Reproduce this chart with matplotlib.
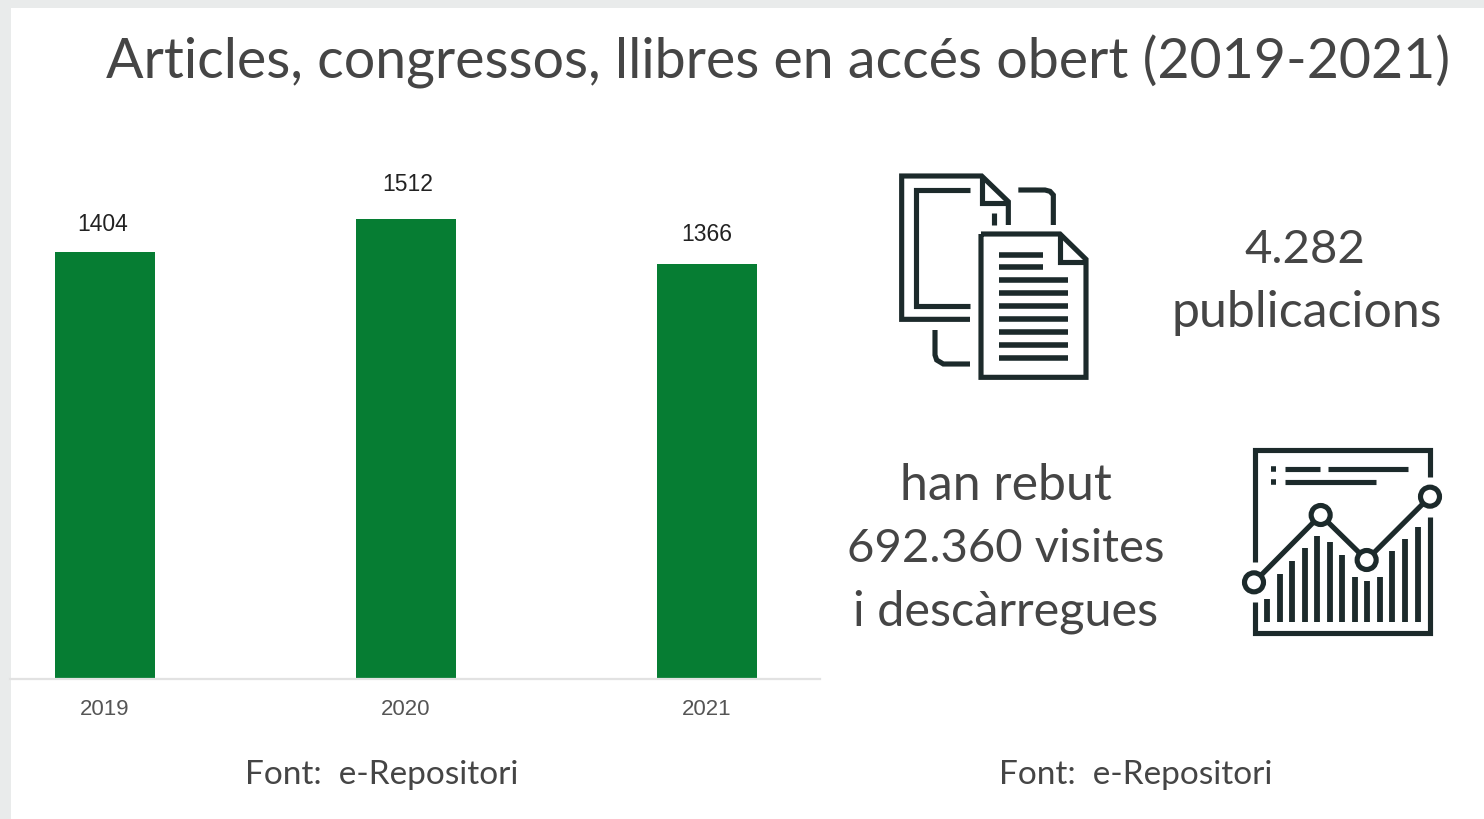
import matplotlib
matplotlib.use("Agg")
import matplotlib.pyplot as plt
from matplotlib.patches import Rectangle, Circle

years = ["2019", "2020", "2021"]
counts = [1404, 1512, 1366]

title = "Articles, congressos, llibres en accés obert (2019-2021)"
source = "Font:  e-Repositori"

doc_paths = [
    [(270, 478), (65, 478), (65, 48), (305, 48), (385, 125), (385, 195)],
    [(305, 48), (305, 130), (385, 130)],
    [(270, 90), (108, 90), (108, 438), (270, 438)],
    [(343, 160), (343, 195)],
    [(415, 90), (495, 90), (510, 94), (520, 105), (520, 195)],
    [(165, 510), (165, 585), (170, 600), (190, 612), (270, 612)],
]
front_page = [(303, 222), (540, 222), (618, 298), (618, 652), (303, 652), (303, 222)]
front_fold = [(540, 222), (540, 305), (618, 305)]
short_rows = [284, 322]
long_rows = [360, 399, 438, 477, 515, 554, 593]

# icon 2, origin at (1230,435)
frame_paths = [
    [(75, 385), (75, 48), (600, 48), (600, 130)],
    [(75, 505), (75, 598), (600, 598), (600, 250)],
]
text_rows = [(165, 270, 105), (293, 533, 105), (165, 438, 143)]
dots = [(130, 105), (130, 143)]
mini_x = [112, 150, 187, 225, 262, 300, 337, 375, 412, 450, 487, 525, 563]
mini_top = [495, 420, 380, 343, 305, 325, 362, 428, 440, 428, 352, 315, 278]
trend = [(72, 445), (272, 243), (410, 378), (600, 188)]

W, H = 1484, 820
ink = "#1c2a2b"
text_col = "#454545"
green = "#067d33"

fig = plt.figure(figsize=(W / 100, H / 100), dpi=100, facecolor="white")

# overlay in pixels for frame, text and icons
ov = fig.add_axes([0, 0, 1, 1])
ov.set_xlim(0, W)
ov.set_ylim(H, 0)
ov.axis("off")
ov.add_patch(Rectangle((0, 0), W, 9, color="#e9ebeb", lw=0))
ov.add_patch(Rectangle((0, 0), 11, H, color="#e9ebeb", lw=0))

# bar chart
ax = fig.add_axes([10 / W, 1 - 680 / H, 810 / W, 529 / H])
ax.patch.set_alpha(0)
ax.bar(range(3), counts, width=0.33, color=green)
ax.set_xlim(-0.316, 2.375)
ax.set_ylim(0, 1740)
ax.set_yticks([])
ax.set_xticks(range(3))
ax.set_xticklabels(years, fontsize=16, color="#555555", family="Liberation Sans")
ax.tick_params(axis="x", length=0, pad=14)
for s in ["top", "left", "right"]:
    ax.spines[s].set_visible(False)
ax.spines["bottom"].set_color("#e2e2e2")
ax.spines["bottom"].set_linewidth(1.6)
label_offsets = [(-2, 12), (1, 17.5), (0, 13.5)]
for i, v in enumerate(counts):
    ax.annotate(str(v), (i, v), xytext=label_offsets[i], textcoords="offset points", ha="center", va="bottom",
                fontsize=16.5, color="#222222", family="Liberation Sans")


def put(s, x, y, size):
    ov.text(x, y, s, ha="center", va="center", fontsize=size, color=text_col, family="Lato")


put(title, 778, 62, 40)
put("4.282", 1305, 250, 34)
put("publicacions", 1307, 313, 36)
put("han rebut", 1006, 486, 36)
put("692.360 visites", 1006, 549, 34)
put("i descàrregues", 1006, 612, 35)
put(source, 382, 775, 24)
put(source, 1136, 775, 24)


def stroke(pts, x0, y0, lw=3.7):
    xs = [x0 + p[0] / 3 for p in pts]
    ys = [y0 + p[1] / 3 for p in pts]
    ov.plot(xs, ys, color=ink, lw=lw, solid_joinstyle="miter", solid_capstyle="butt")


for p in doc_paths:
    stroke(p, 880, 161)
stroke(front_page, 880, 161)
stroke(front_fold, 880, 161)
for y in short_rows:
    stroke([(358, y), (488, y)], 880, 161, lw=4)
for y in long_rows:
    stroke([(358, y), (565, y)], 880, 161, lw=4)

for p in frame_paths:
    stroke(p, 1230, 435)
for a, b, y in text_rows:
    stroke([(a, y), (b, y)], 1230, 435)
for x, y in dots:
    stroke([(x - 8, y), (x + 8, y)], 1230, 435, lw=4)
for x, t in zip(mini_x, mini_top):
    stroke([(x, 565), (x, t)], 1230, 435, lw=4.2)
stroke(trend, 1230, 435)
for x, y in trend:
    ov.add_patch(Circle((1230 + x / 3, 435 + y / 3), 9.5, fc="white", ec=ink, lw=3.7, zorder=5))

fig.savefig("out.png", dpi=100)
